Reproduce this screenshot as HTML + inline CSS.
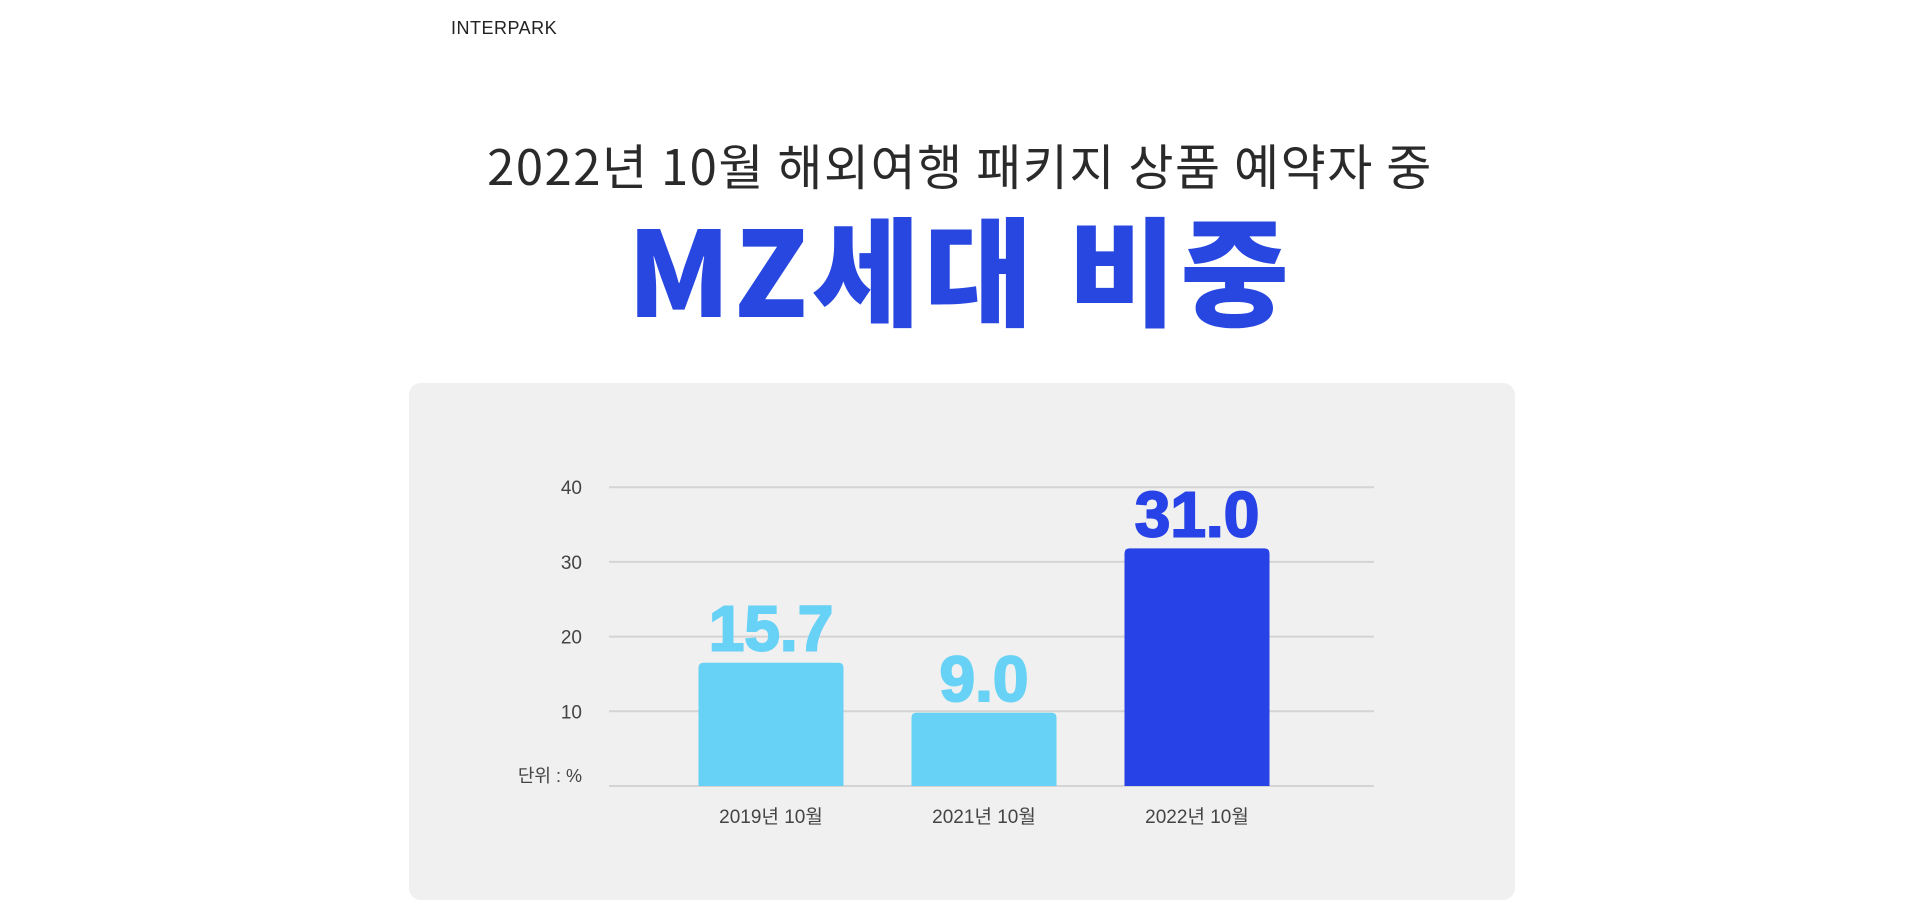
<!DOCTYPE html>
<html><head><meta charset="utf-8"><style>
body{margin:0;width:1920px;height:906px;background:#fff;position:relative;overflow:hidden;font-family:"Liberation Sans","Noto Sans CJK KR",sans-serif}
.abs{position:absolute}
</style></head><body>
<div class="abs" style="left:451px;top:18px;font-size:18px;font-weight:normal;letter-spacing:0.5px;color:#222">INTERPARK</div>
<div class="abs" style="left:0;width:1920px;top:136px;text-align:center;font-size:49px;line-height:58px;color:#2a2a2a;font-family:'Noto Sans CJK KR',sans-serif;font-weight:400;letter-spacing:1.5px">2022년 10월 해외여행 패키지 상품 예약자 중</div>
<div class="abs" style="left:0;width:1920px;top:196px;text-align:center;font-size:118px;line-height:140px;font-weight:900;color:#2747e0;font-family:'Noto Sans CJK KR',sans-serif;letter-spacing:4px">MZ세대 비중</div>
<div class="abs" style="left:409px;top:383px;width:1106px;height:517px;background:#f0f0f0;border-radius:12px"></div>
<svg class="abs" style="left:0;top:0" width="1920" height="906" id="chart"></svg>
<script>
const categories=["2019년 10월","2021년 10월","2022년 10월"];
const values=[15.7,9.0,31.0];
const valueLabels=["15.7","9.0","31.0"];
const ticks=[10,20,30,40];
const colors=["#67d2f5","#67d2f5","#2742e6"];
const svg=document.getElementById('chart');
const NS="http://www.w3.org/2000/svg";
const y0=786,yPer=7.47;
const y=v=>y0-v*yPer;
const xc=i=>771+i*213;
const bw=145;
function mk(t,a){const e=document.createElementNS(NS,t);for(const k in a)e.setAttribute(k,a[k]);svg.appendChild(e);return e;}
[0,...ticks].forEach(t=>{
 const l=mk('line',{x1:609,x2:1374,y1:y(t),y2:y(t),stroke:'#d4d4d4','stroke-width':2});
 
 
});
ticks.forEach(t=>{
 const e=mk('text',{x:582,y:y(t)+7,'text-anchor':'end','font-size':19,fill:'#444'});
 e.textContent=t;
 
 
});
const u=mk('text',{x:582,y:y0-4,'text-anchor':'end','font-size':18,fill:'#444'});
u.textContent="단위 : %";


categories.forEach((c,i)=>{
 const top=y(values[i])-6;
 const b=mk('path',{d:`M${xc(i)-bw/2},${y0} V${top+5} q0,-5 5,-5 H${xc(i)+bw/2-5} q5,0 5,5 V${y0} Z`,fill:colors[i]});
 
 
 const v=mk('text',{x:xc(i),y:top-12,'text-anchor':'middle','font-size':64,'font-weight':'bold',fill:colors[i],stroke:colors[i],'stroke-width':2});
 v.textContent=valueLabels[i];
 
 
 const x=mk('text',{x:xc(i),y:823,'text-anchor':'middle','font-size':19,fill:'#444'});
 x.textContent=c;
 
 
});
</script>
</body></html>
